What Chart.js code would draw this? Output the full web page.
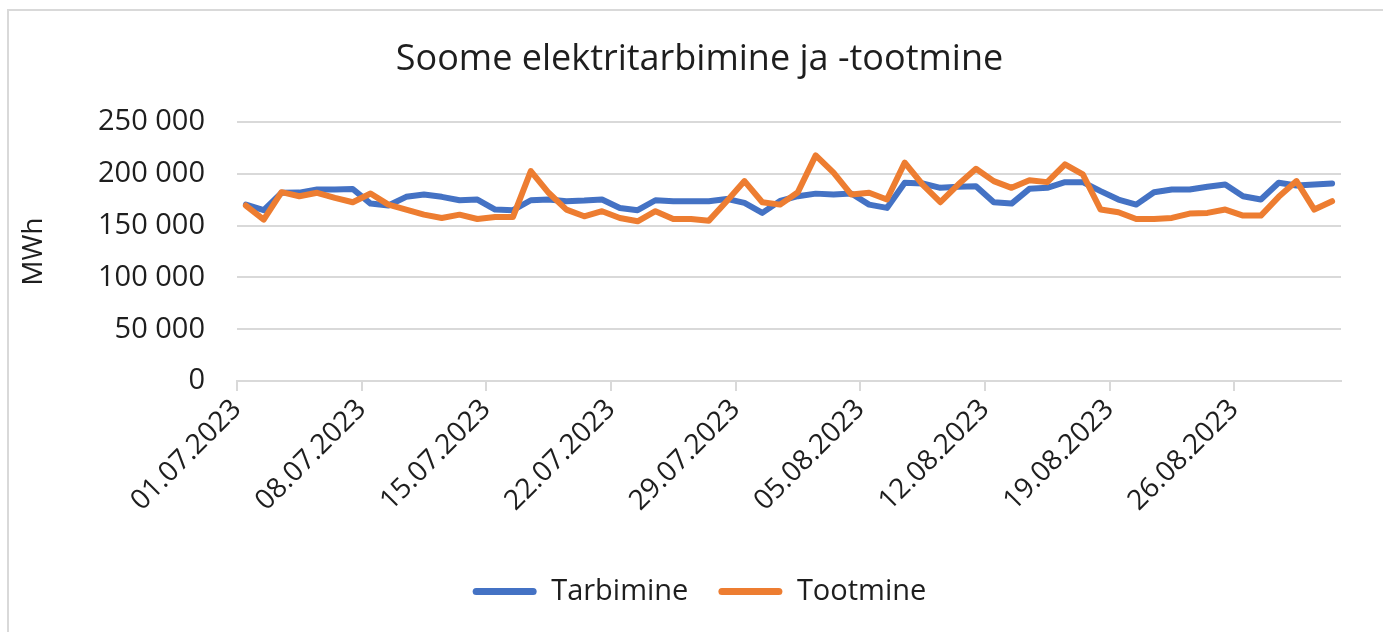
<!DOCTYPE html>
<html>
<head>
<meta charset="utf-8">
<script src="https://cdn.jsdelivr.net/npm/chart.js@4/dist/chart.umd.min.js"></script>
<style>
  html, body { margin: 0; padding: 0; background: #fff; }
  #wrap { position: relative; width: 1383px; height: 632px; overflow: hidden; }
  #frame { position: absolute; left: 7px; top: 9px; width: 1400px; height: 640px;
           border-left: 2px solid #d9d9d9; border-top: 2px solid #d9d9d9; }
  canvas { position: absolute; left: 0; top: 0; }
</style>
</head>
<body>
<div id="wrap">
  <div id="frame"></div>
  <canvas id="chart" width="1383" height="632"></canvas>
</div>
<script>
// Daily values 01.07.2023 - 31.08.2023, MWh
const tickLabels = ['01.07.2023', '08.07.2023', '15.07.2023', '22.07.2023', '29.07.2023',
                    '05.08.2023', '12.08.2023', '19.08.2023', '26.08.2023'];
const tickStep = 7;

const tarbimine = [
    170400, 165000, 181800, 182000, 185000, 185000, 185500, 171400, 169500, 177900,
    180100, 177900, 174600, 175300, 165600, 165000, 174600, 175300, 173700, 174300,
    175300, 167200, 165000, 174600, 173700, 173700, 173700, 175900, 172000, 162400,
    174000, 178500, 181000, 180100, 181100, 170400, 167200, 191500, 190800, 186600,
    187600, 188200, 172700, 171400, 185600, 186600, 192100, 192100, 183400, 175300,
    170400, 182400, 185000, 185000, 187600, 189800, 178500, 175300, 191500, 188900,
    189800, 190800
];

const tootmine = [
    169500, 155900, 182400, 178500, 181800, 176900, 172700, 181100, 170400, 165600,
    160700, 157500, 160700, 156500, 158500, 158500, 202800, 181800, 165600, 159100,
    164000, 157500, 154300, 164000, 156500, 156500, 154900, 173700, 193100, 172700,
    170400, 182400, 218000, 201200, 180100, 181800, 175300, 210900, 189800, 172700,
    189800, 205000, 193100, 186600, 194000, 192100, 209200, 199500, 165600, 163000,
    156500, 156500, 157500, 161700, 162400, 165600, 159800, 159800, 177900, 193100,
    165600, 173700
];

const FONT = "'Open Sans', sans-serif";
const TEXT = '#1e1e1e';
const GRID = '#d9d9d9';

// points sit in the middle of each day slot, like Excel's date axis
const toPoints = arr => arr.map((v, i) => ({ x: i + 0.5, y: v }));
const fmt = v => String(v).replace(/\B(?=(\d{3})+(?!\d))/g, ' ');

new Chart(document.getElementById('chart'), {
    type: 'line',
    data: {
        datasets: [
            {
                label: 'Tarbimine',
                data: toPoints(tarbimine),
                borderColor: '#4472C4',
                backgroundColor: '#4472C4',
                borderWidth: 6,
                pointRadius: 0,
                borderJoinStyle: 'round',
                borderCapStyle: 'round',
                order: 2
            },
            {
                label: 'Tootmine',
                data: toPoints(tootmine),
                borderColor: '#ED7D31',
                backgroundColor: '#ED7D31',
                borderWidth: 6,
                pointRadius: 0,
                borderJoinStyle: 'round',
                borderCapStyle: 'round',
                order: 1
            }
        ]
    },
    options: {
        responsive: false,
        animation: false,
        devicePixelRatio: 1,
        // left padding keeps title and legend centred like the original frame
        layout: {
            padding: { left: 58, right: 42, top: 0, bottom: 16 }
        },
        plugins: {
            title: {
                display: true,
                text: 'Soome elektritarbimine ja -tootmine',
                color: TEXT,
                font: { family: FONT, size: 36, weight: 'normal' },
                padding: { top: 38, bottom: 41 }
            },
            legend: {
                position: 'bottom',
                labels: {
                    color: TEXT,
                    font: { family: FONT, size: 29 },
                    boxWidth: 64,
                    boxHeight: 7,
                    padding: 30,
                    useBorderRadius: true,
                    borderRadius: 3.5,
                    sort: (a, b) => a.datasetIndex - b.datasetIndex,
                    generateLabels: chart => Chart.defaults.plugins.legend.labels
                        .generateLabels(chart)
                        .map(l => Object.assign(l, { lineWidth: 0, fillStyle: l.strokeStyle }))
                }
            },
            tooltip: { enabled: false }
        },
        scales: {
            x: {
                type: 'linear',
                min: 0,
                max: tarbimine.length,
                afterBuildTicks: scale => {
                    scale.ticks = tickLabels.map((_, i) => ({ value: i * tickStep }));
                },
                afterFit: scale => { scale.height = 166; },
                ticks: {
                    callback: v => tickLabels[v / tickStep],
                    autoSkip: false,
                    minRotation: 45,
                    maxRotation: 45,
                    color: TEXT,
                    font: { family: FONT, size: 28 },
                    padding: 2
                },
                grid: {
                    drawOnChartArea: false,
                    color: GRID,
                    lineWidth: 2,
                    tickLength: 10
                },
                border: { color: GRID, width: 2 }
            },
            y: {
                min: 0,
                max: 250000,
                afterFit: scale => { scale.width = 179; },
                ticks: {
                    stepSize: 50000,
                    callback: v => fmt(v),
                    color: TEXT,
                    font: { family: FONT, size: 29 },
                    padding: 32
                },
                grid: {
                    color: GRID,
                    lineWidth: 2,
                    drawTicks: false
                },
                border: { display: false },
                title: {
                    display: true,
                    text: 'MWh',
                    color: TEXT,
                    font: { family: FONT, size: 28 },
                    padding: { top: -41, bottom: 0 }
                }
            }
        }
    }
});
</script>
</body>
</html>
